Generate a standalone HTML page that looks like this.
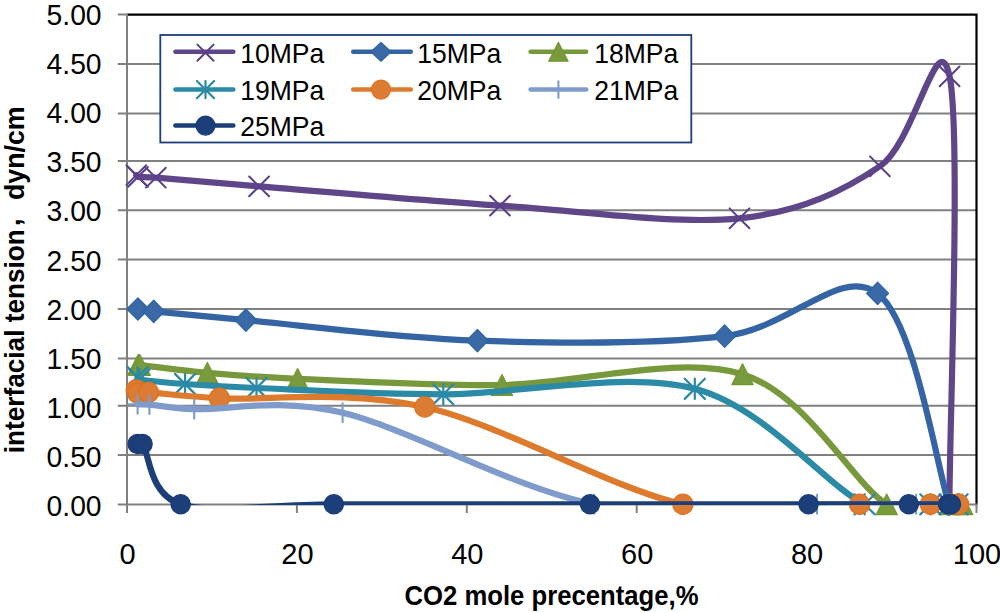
<!DOCTYPE html>
<html><head><meta charset="utf-8"><title>chart</title>
<style>
html,body{margin:0;padding:0;background:#fff;}
body{width:1000px;height:613px;overflow:hidden;}
svg{display:block;}
text{font-family:"Liberation Sans",sans-serif;fill:#000;}
</style></head><body>
<svg width="1000" height="613" viewBox="0 0 1000 613">
<defs><clipPath id="pa"><rect x="127.0" y="14.6" width="849.5" height="490.4"/></clipPath></defs>

<path d="M127.0,455.00H976.5M127.0,405.80H976.5M127.0,358.50H976.5M127.0,309.00H976.5M127.0,259.60H976.5M127.0,210.20H976.5M127.0,160.90H976.5M127.0,113.50H976.5M127.0,64.10H976.5" stroke="#808080" stroke-width="2" fill="none"/>
<path d="M127.0,14.60H976.50V505.00" stroke="#000" stroke-width="2.2" fill="none"/>
<path d="M127.0,14.00V504.60M126.0,504.6H977.50M117.8,504.60H127.0M117.8,455.00H127.0M117.8,405.80H127.0M117.8,358.50H127.0M117.8,309.00H127.0M117.8,259.60H127.0M117.8,210.20H127.0M117.8,160.90H127.0M117.8,113.50H127.0M117.8,64.10H127.0M117.8,14.60H127.0M127.00,504.6V513M296.90,504.6V513M466.80,504.6V513M636.70,504.6V513M806.60,504.6V513M976.50,504.6V513" stroke="#808080" stroke-width="2" fill="none"/>
<path d="M136.30,175.20 C136.58,175.48 136.81,176.75 138.00,176.90 C141.27,177.32 146.97,177.00 155.90,177.70 C176.08,179.28 207.49,182.22 259.10,186.40 C316.45,191.05 419.93,200.28 500.00,205.60 C580.07,210.92 676.18,224.85 739.50,218.30 C802.82,211.75 844.88,189.95 879.90,166.30 C914.92,142.65 938.14,20.69 949.60,76.40 C961.18,132.73 949.43,432.98 949.40,504.30" stroke="#5E4689" stroke-width="6.2" fill="none" stroke-linejoin="round" stroke-linecap="round" clip-path="url(#pa)"/>
<path d="M126.40,165.30L146.20,185.10M126.40,185.10L146.20,165.30" stroke="#5B3F8A" stroke-width="2" fill="none" stroke-linecap="round"/>
<path d="M128.10,167.00L147.90,186.80M128.10,186.80L147.90,167.00" stroke="#5B3F8A" stroke-width="2" fill="none" stroke-linecap="round"/>
<path d="M146.00,167.80L165.80,187.60M146.00,187.60L165.80,167.80" stroke="#5B3F8A" stroke-width="2" fill="none" stroke-linecap="round"/>
<path d="M249.20,176.50L269.00,196.30M249.20,196.30L269.00,176.50" stroke="#5B3F8A" stroke-width="2" fill="none" stroke-linecap="round"/>
<path d="M490.10,195.70L509.90,215.50M490.10,215.50L509.90,195.70" stroke="#5B3F8A" stroke-width="2" fill="none" stroke-linecap="round"/>
<path d="M729.60,208.40L749.40,228.20M729.60,228.20L749.40,208.40" stroke="#5B3F8A" stroke-width="2" fill="none" stroke-linecap="round"/>
<path d="M870.00,156.40L889.80,176.20M870.00,176.20L889.80,156.40" stroke="#5B3F8A" stroke-width="2" fill="none" stroke-linecap="round"/>
<path d="M939.70,66.50L959.50,86.30M939.70,86.30L959.50,66.50" stroke="#5B3F8A" stroke-width="2" fill="none" stroke-linecap="round"/>
<path d="M939.50,494.40L959.30,514.20M939.50,514.20L959.30,494.40" stroke="#5B3F8A" stroke-width="2" fill="none" stroke-linecap="round"/>
<path d="M137.90,309.00 C140.53,309.38 145.76,310.48 153.70,311.30 C171.70,313.17 199.78,316.01 245.90,320.20 C299.85,325.10 397.62,338.05 477.40,340.70 C557.18,343.35 657.90,343.98 724.60,336.10 C791.30,328.22 840.20,265.37 877.60,293.40 C915.00,321.43 937.10,469.15 949.00,504.30" stroke="#3464A3" stroke-width="6.2" fill="none" stroke-linejoin="round" stroke-linecap="round" clip-path="url(#pa)"/>
<path d="M137.90,297.80L148.90,309.00L137.90,320.20L126.90,309.00Z" fill="#3A6AA6" stroke="#2F62A3" stroke-width="1.2" stroke-linejoin="round"/>
<path d="M153.70,300.10L164.70,311.30L153.70,322.50L142.70,311.30Z" fill="#3A6AA6" stroke="#2F62A3" stroke-width="1.2" stroke-linejoin="round"/>
<path d="M245.90,309.00L256.90,320.20L245.90,331.40L234.90,320.20Z" fill="#3A6AA6" stroke="#2F62A3" stroke-width="1.2" stroke-linejoin="round"/>
<path d="M477.40,329.50L488.40,340.70L477.40,351.90L466.40,340.70Z" fill="#3A6AA6" stroke="#2F62A3" stroke-width="1.2" stroke-linejoin="round"/>
<path d="M724.60,324.90L735.60,336.10L724.60,347.30L713.60,336.10Z" fill="#3A6AA6" stroke="#2F62A3" stroke-width="1.2" stroke-linejoin="round"/>
<path d="M877.60,282.20L888.60,293.40L877.60,304.60L866.60,293.40Z" fill="#3A6AA6" stroke="#2F62A3" stroke-width="1.2" stroke-linejoin="round"/>
<path d="M949.00,493.10L960.00,504.30L949.00,515.50L938.00,504.30Z" fill="#3A6AA6" stroke="#2F62A3" stroke-width="1.2" stroke-linejoin="round"/>
<path d="M138.20,364.80 C138.47,364.83 139.00,364.91 139.80,365.00 C151.33,366.33 181.10,370.50 207.40,372.80 C233.70,375.10 252.44,376.93 297.60,378.80 C346.70,380.83 427.85,385.77 502.00,385.00 C576.15,384.23 678.38,354.32 742.50,374.20 C806.62,394.08 851.98,482.62 886.70,504.30 C913.88,521.28 938.22,504.30 950.80,504.30 C956.50,504.30 960.30,504.30 962.20,504.30" stroke="#77993B" stroke-width="6.2" fill="none" stroke-linejoin="round" stroke-linecap="round" clip-path="url(#pa)"/>
<path d="M138.20,354.40L148.80,375.20L127.60,375.20Z" fill="#7A9A3E" stroke="#71982E" stroke-width="1.2" stroke-linejoin="round"/>
<path d="M139.80,354.60L150.40,375.40L129.20,375.40Z" fill="#7A9A3E" stroke="#71982E" stroke-width="1.2" stroke-linejoin="round"/>
<path d="M207.40,362.40L218.00,383.20L196.80,383.20Z" fill="#7A9A3E" stroke="#71982E" stroke-width="1.2" stroke-linejoin="round"/>
<path d="M297.60,368.40L308.20,389.20L287.00,389.20Z" fill="#7A9A3E" stroke="#71982E" stroke-width="1.2" stroke-linejoin="round"/>
<path d="M502.00,374.60L512.60,395.40L491.40,395.40Z" fill="#7A9A3E" stroke="#71982E" stroke-width="1.2" stroke-linejoin="round"/>
<path d="M742.50,363.80L753.10,384.60L731.90,384.60Z" fill="#7A9A3E" stroke="#71982E" stroke-width="1.2" stroke-linejoin="round"/>
<path d="M886.70,493.90L897.30,514.70L876.10,514.70Z" fill="#7A9A3E" stroke="#71982E" stroke-width="1.2" stroke-linejoin="round"/>
<path d="M950.80,493.90L961.40,514.70L940.20,514.70Z" fill="#7A9A3E" stroke="#71982E" stroke-width="1.2" stroke-linejoin="round"/>
<path d="M962.20,493.90L972.80,514.70L951.60,514.70Z" fill="#7A9A3E" stroke="#71982E" stroke-width="1.2" stroke-linejoin="round"/>
<path d="M137.50,377.00 C137.83,377.42 137.92,379.27 139.50,379.50 C147.43,380.67 165.60,382.58 185.10,384.00 C204.60,385.42 220.77,386.57 256.50,388.00 C299.53,389.72 370.25,394.17 443.30,394.30 C516.35,394.43 624.58,370.47 694.80,388.80 C765.02,407.13 825.33,485.05 864.60,504.30 C894.14,518.78 914.92,504.30 930.40,504.30 C943.95,504.30 952.98,504.30 957.50,504.30" stroke="#2B8BA7" stroke-width="6.2" fill="none" stroke-linejoin="round" stroke-linecap="round" clip-path="url(#pa)"/>
<path d="M127.40,366.90L147.60,387.10M127.40,387.10L147.60,366.90M137.50,366.90L137.50,387.10" stroke="#2A8AA6" stroke-width="2.2" fill="none" stroke-linecap="round"/>
<path d="M129.40,369.40L149.60,389.60M129.40,389.60L149.60,369.40M139.50,369.40L139.50,389.60" stroke="#2A8AA6" stroke-width="2.2" fill="none" stroke-linecap="round"/>
<path d="M175.00,373.90L195.20,394.10M175.00,394.10L195.20,373.90M185.10,373.90L185.10,394.10" stroke="#2A8AA6" stroke-width="2.2" fill="none" stroke-linecap="round"/>
<path d="M246.40,377.90L266.60,398.10M246.40,398.10L266.60,377.90M256.50,377.90L256.50,398.10" stroke="#2A8AA6" stroke-width="2.2" fill="none" stroke-linecap="round"/>
<path d="M433.20,384.20L453.40,404.40M433.20,404.40L453.40,384.20M443.30,384.20L443.30,404.40" stroke="#2A8AA6" stroke-width="2.2" fill="none" stroke-linecap="round"/>
<path d="M684.70,378.70L704.90,398.90M684.70,398.90L704.90,378.70M694.80,378.70L694.80,398.90" stroke="#2A8AA6" stroke-width="2.2" fill="none" stroke-linecap="round"/>
<path d="M854.50,494.20L874.70,514.40M854.50,514.40L874.70,494.20M864.60,494.20L864.60,514.40" stroke="#2A8AA6" stroke-width="2.2" fill="none" stroke-linecap="round"/>
<path d="M920.30,494.20L940.50,514.40M920.30,514.40L940.50,494.20M930.40,494.20L930.40,514.40" stroke="#2A8AA6" stroke-width="2.2" fill="none" stroke-linecap="round"/>
<path d="M947.40,494.20L967.60,514.40M947.40,514.40L967.60,494.20M957.50,494.20L957.50,514.40" stroke="#2A8AA6" stroke-width="2.2" fill="none" stroke-linecap="round"/>
<path d="M136.30,390.00 C136.55,390.53 136.07,392.86 137.80,393.20 C139.82,393.60 143.10,392.07 148.40,392.40 C161.98,393.25 183.78,396.42 219.30,398.30 C265.37,400.73 347.53,389.33 424.80,407.00 C502.07,424.67 610.43,488.08 682.90,504.30 C755.37,520.52 818.35,504.30 859.60,504.30 C895.00,504.30 915.08,504.30 930.40,504.30 C940.95,504.30 946.80,504.30 951.50,504.30 C955.05,504.30 957.42,504.30 958.60,504.30" stroke="#DE7A2C" stroke-width="6.2" fill="none" stroke-linejoin="round" stroke-linecap="round" clip-path="url(#pa)"/>
<circle cx="136.30" cy="390.00" r="10.1" fill="#DC7B33" stroke="#E0711F" stroke-width="1.2"/>
<circle cx="137.80" cy="393.20" r="10.1" fill="#DC7B33" stroke="#E0711F" stroke-width="1.2"/>
<circle cx="148.40" cy="392.40" r="10.1" fill="#DC7B33" stroke="#E0711F" stroke-width="1.2"/>
<circle cx="219.30" cy="398.30" r="10.1" fill="#DC7B33" stroke="#E0711F" stroke-width="1.2"/>
<circle cx="424.80" cy="407.00" r="10.1" fill="#DC7B33" stroke="#E0711F" stroke-width="1.2"/>
<circle cx="682.90" cy="504.30" r="10.1" fill="#DC7B33" stroke="#E0711F" stroke-width="1.2"/>
<circle cx="859.60" cy="504.30" r="10.1" fill="#DC7B33" stroke="#E0711F" stroke-width="1.2"/>
<circle cx="930.40" cy="504.30" r="10.1" fill="#DC7B33" stroke="#E0711F" stroke-width="1.2"/>
<circle cx="951.50" cy="504.30" r="10.1" fill="#DC7B33" stroke="#E0711F" stroke-width="1.2"/>
<circle cx="958.60" cy="504.30" r="10.1" fill="#DC7B33" stroke="#E0711F" stroke-width="1.2"/>
<path d="M137.60,404.30 C139.57,404.35 143.52,404.09 149.40,404.60 C158.83,405.42 171.70,408.25 194.20,409.20 C226.40,410.57 275.93,396.95 342.60,412.80 C409.27,428.65 515.13,489.05 594.20,504.30 C673.27,519.55 763.37,504.30 817.00,504.30 C866.50,504.30 894.10,504.30 916.00,504.30 C932.20,504.30 943.00,504.30 948.40,504.30" stroke="#7F9BCB" stroke-width="6.2" fill="none" stroke-linejoin="round" stroke-linecap="round" clip-path="url(#pa)"/>
<path d="M128.20,404.30L147.00,404.30M137.60,394.90L137.60,413.70" stroke="#7F9BCB" stroke-width="2.1" fill="none" stroke-linecap="round"/>
<path d="M140.00,404.60L158.80,404.60M149.40,395.20L149.40,414.00" stroke="#7F9BCB" stroke-width="2.1" fill="none" stroke-linecap="round"/>
<path d="M184.80,409.20L203.60,409.20M194.20,399.80L194.20,418.60" stroke="#7F9BCB" stroke-width="2.1" fill="none" stroke-linecap="round"/>
<path d="M333.20,412.80L352.00,412.80M342.60,403.40L342.60,422.20" stroke="#7F9BCB" stroke-width="2.1" fill="none" stroke-linecap="round"/>
<path d="M584.80,504.30L603.60,504.30M594.20,494.90L594.20,513.70" stroke="#7F9BCB" stroke-width="2.1" fill="none" stroke-linecap="round"/>
<path d="M807.60,504.30L826.40,504.30M817.00,494.90L817.00,513.70" stroke="#7F9BCB" stroke-width="2.1" fill="none" stroke-linecap="round"/>
<path d="M906.60,504.30L925.40,504.30M916.00,494.90L916.00,513.70" stroke="#7F9BCB" stroke-width="2.1" fill="none" stroke-linecap="round"/>
<path d="M939.00,504.30L957.80,504.30M948.40,494.90L948.40,513.70" stroke="#7F9BCB" stroke-width="2.1" fill="none" stroke-linecap="round"/>
<path d="M137.60,444.00 C138.43,444.00 141.15,441.97 142.60,444.00 C149.78,454.05 148.83,494.25 180.70,504.30 C212.57,514.35 265.58,504.30 333.80,504.30 C402.02,504.30 510.88,504.30 590.00,504.30 C669.12,504.30 755.37,504.30 808.50,504.30 C858.65,504.30 885.55,504.30 908.80,504.30 C928.40,504.30 940.97,504.30 948.00,504.30 C949.50,504.30 950.50,504.30 951.00,504.30" stroke="#1C3F7A" stroke-width="6.2" fill="none" stroke-linejoin="round" stroke-linecap="round" clip-path="url(#pa)"/>
<circle cx="137.60" cy="444.00" r="9.6" fill="#1C3F7A" stroke="#183B78" stroke-width="1.2"/>
<circle cx="142.60" cy="444.00" r="9.6" fill="#1C3F7A" stroke="#183B78" stroke-width="1.2"/>
<circle cx="180.70" cy="504.30" r="9.6" fill="#1C3F7A" stroke="#183B78" stroke-width="1.2"/>
<circle cx="333.80" cy="504.30" r="9.6" fill="#1C3F7A" stroke="#183B78" stroke-width="1.2"/>
<circle cx="590.00" cy="504.30" r="9.6" fill="#1C3F7A" stroke="#183B78" stroke-width="1.2"/>
<circle cx="808.50" cy="504.30" r="9.6" fill="#1C3F7A" stroke="#183B78" stroke-width="1.2"/>
<circle cx="908.80" cy="504.30" r="9.6" fill="#1C3F7A" stroke="#183B78" stroke-width="1.2"/>
<circle cx="948.00" cy="504.30" r="9.6" fill="#1C3F7A" stroke="#183B78" stroke-width="1.2"/>
<circle cx="951.00" cy="504.30" r="9.6" fill="#1C3F7A" stroke="#183B78" stroke-width="1.2"/>
<text x="101.6" y="516.25" font-size="29" text-anchor="end" textLength="55" lengthAdjust="spacingAndGlyphs">0.00</text>
<text x="101.6" y="467.10" font-size="29" text-anchor="end" textLength="55" lengthAdjust="spacingAndGlyphs">0.50</text>
<text x="101.6" y="417.95" font-size="29" text-anchor="end" textLength="55" lengthAdjust="spacingAndGlyphs">1.00</text>
<text x="101.6" y="368.80" font-size="29" text-anchor="end" textLength="55" lengthAdjust="spacingAndGlyphs">1.50</text>
<text x="101.6" y="319.65" font-size="29" text-anchor="end" textLength="55" lengthAdjust="spacingAndGlyphs">2.00</text>
<text x="101.6" y="270.50" font-size="29" text-anchor="end" textLength="55" lengthAdjust="spacingAndGlyphs">2.50</text>
<text x="101.6" y="221.35" font-size="29" text-anchor="end" textLength="55" lengthAdjust="spacingAndGlyphs">3.00</text>
<text x="101.6" y="172.20" font-size="29" text-anchor="end" textLength="55" lengthAdjust="spacingAndGlyphs">3.50</text>
<text x="101.6" y="123.05" font-size="29" text-anchor="end" textLength="55" lengthAdjust="spacingAndGlyphs">4.00</text>
<text x="101.6" y="73.90" font-size="29" text-anchor="end" textLength="55" lengthAdjust="spacingAndGlyphs">4.50</text>
<text x="101.6" y="24.75" font-size="29" text-anchor="end" textLength="55" lengthAdjust="spacingAndGlyphs">5.00</text>
<text x="127.50" y="563.6" font-size="29" text-anchor="middle">0</text>
<text x="297.40" y="563.6" font-size="29" text-anchor="middle">20</text>
<text x="467.30" y="563.6" font-size="29" text-anchor="middle">40</text>
<text x="637.20" y="563.6" font-size="29" text-anchor="middle">60</text>
<text x="807.10" y="563.6" font-size="29" text-anchor="middle">80</text>
<text x="977.00" y="563.6" font-size="29" text-anchor="middle">100</text>
<text x="404.5" y="605.4" font-size="27" font-weight="bold" textLength="294" lengthAdjust="spacingAndGlyphs">CO2 mole precentage,%</text>
<g transform="translate(23.6,453.2) rotate(-90)"><text x="0" y="0" font-size="28.5" font-weight="bold" textLength="224" lengthAdjust="spacingAndGlyphs">interfacial tension</text><text x="227" y="-3.5" font-size="28.5" font-weight="bold">,</text><text x="253.2" y="0" font-size="28.5" font-weight="bold" textLength="93.6" lengthAdjust="spacingAndGlyphs">dyn/cm</text></g>
<rect x="160.3" y="35" width="531" height="107.5" fill="#fff" stroke="#1C3F7A" stroke-width="1.8"/>
<path d="M175.39999999999998,51.8H233.3" stroke="#5E4689" stroke-width="4.5" stroke-linecap="round"/>
<path d="M197.40,44.60L213.60,60.80M197.40,60.80L213.60,44.60" stroke="#5B3F8A" stroke-width="2" fill="none" stroke-linecap="round"/>
<text x="240.2" y="63.20" font-size="28" textLength="84" lengthAdjust="spacingAndGlyphs">10MPa</text>
<path d="M353.2,51.8H410.8" stroke="#3464A3" stroke-width="4.5" stroke-linecap="round"/>
<path d="M381.00,42.40L391.00,51.80L381.00,61.20L371.00,51.80Z" fill="#3A6AA6" stroke="#2F62A3" stroke-width="1.2" stroke-linejoin="round"/>
<text x="417.2" y="63.20" font-size="28" textLength="84" lengthAdjust="spacingAndGlyphs">15MPa</text>
<path d="M530.6,51.8H586.1999999999999" stroke="#77993B" stroke-width="4.5" stroke-linecap="round"/>
<path d="M558.40,42.40L568.10,61.20L548.70,61.20Z" fill="#7A9A3E" stroke="#71982E" stroke-width="1.2" stroke-linejoin="round"/>
<text x="594.2" y="63.20" font-size="28" textLength="84" lengthAdjust="spacingAndGlyphs">18MPa</text>
<path d="M175.39999999999998,89.6H233.3" stroke="#2B8BA7" stroke-width="4.5" stroke-linecap="round"/>
<path d="M196.90,81.00L214.10,98.20M196.90,98.20L214.10,81.00M205.50,81.00L205.50,98.20" stroke="#2A8AA6" stroke-width="2.2" fill="none" stroke-linecap="round"/>
<text x="240.2" y="99.60" font-size="28" textLength="84" lengthAdjust="spacingAndGlyphs">19MPa</text>
<path d="M353.2,89.6H410.8" stroke="#DE7A2C" stroke-width="4.5" stroke-linecap="round"/>
<circle cx="381.00" cy="89.60" r="9.5" fill="#DC7B33" stroke="#E0711F" stroke-width="1.2"/>
<text x="417.2" y="99.60" font-size="28" textLength="84" lengthAdjust="spacingAndGlyphs">20MPa</text>
<path d="M530.6,89.6H586.1999999999999" stroke="#7F9BCB" stroke-width="4.5" stroke-linecap="round"/>
<path d="M550.00,89.60L566.80,89.60M558.40,81.20L558.40,98.00" stroke="#7F9BCB" stroke-width="2.1" fill="none" stroke-linecap="round"/>
<text x="594.2" y="99.60" font-size="28" textLength="84" lengthAdjust="spacingAndGlyphs">21MPa</text>
<path d="M175.39999999999998,125.6H233.3" stroke="#1C3F7A" stroke-width="4.5" stroke-linecap="round"/>
<circle cx="205.50" cy="125.60" r="9.5" fill="#1C3F7A" stroke="#183B78" stroke-width="1.2"/>
<text x="240.2" y="136.00" font-size="28" textLength="84" lengthAdjust="spacingAndGlyphs">25MPa</text>
</svg></body></html>
